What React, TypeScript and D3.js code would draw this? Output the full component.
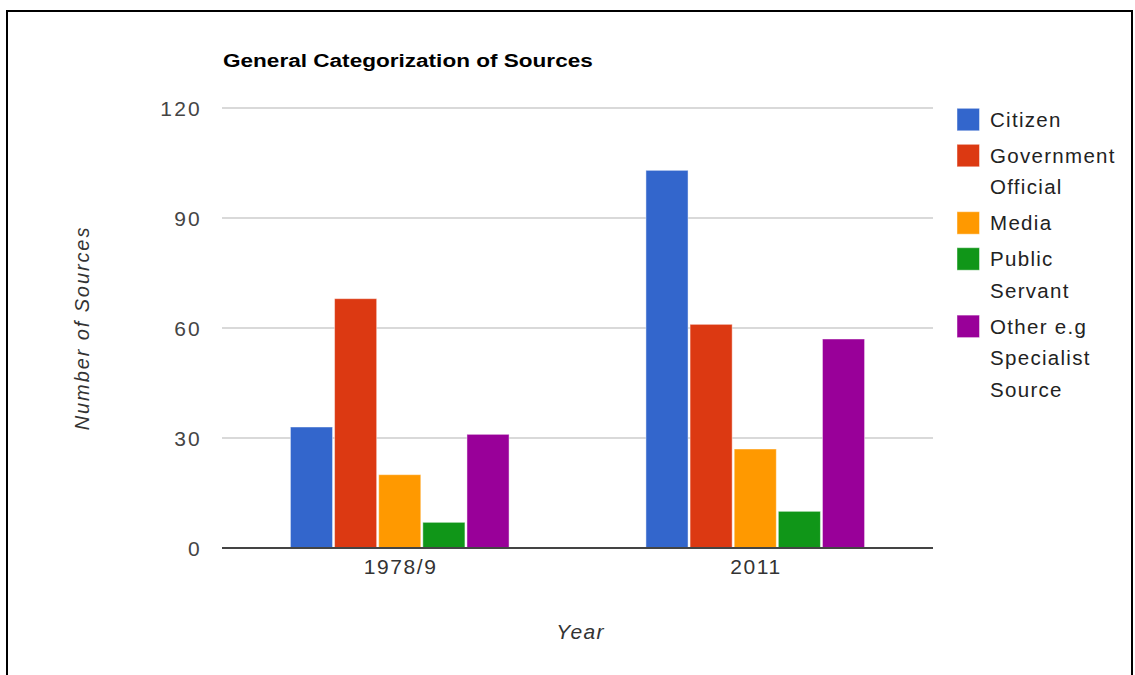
import React, { useEffect, useRef } from "react";
import * as d3 from "d3";

// Survey of source types, counted per sample period
const years = ["1978/9", "2011"];
const seriesNames = [
  "Citizen",
  "Government Official",
  "Media",
  "Public Servant",
  "Other e.g Specialist Source",
];
const seriesColors = ["#3366cc", "#dc3912", "#ff9900", "#109618", "#990099"];
const citizen = [33, 103];
const governmentOfficial = [68, 61];
const media = [20, 27];
const publicServant = [7, 10];
const otherSpecialist = [31, 57];
const yTicks = [0, 30, 60, 90, 120];
const chartTitle = "General Categorization of Sources";
const xTitle = "Year";
const yTitle = "Number of Sources";

const WIDTH = 1135;
const HEIGHT = 675;
const FONT = "'Liberation Sans', Arial, sans-serif";

export default function App() {
  const ref = useRef<SVGSVGElement | null>(null);

  useEffect(() => {
    const svg = d3.select(ref.current);
    svg.selectAll("*").remove();

    const series = [citizen, governmentOfficial, media, publicServant, otherSpecialist];

    const plot = { left: 222, right: 933, top: 108, bottom: 548 };

    // frame around the whole figure
    svg
      .append("rect")
      .attr("x", 7)
      .attr("y", 11)
      .attr("width", 1125)
      .attr("height", 720)
      .attr("fill", "none")
      .attr("stroke", "#000")
      .attr("stroke-width", 2);

    const y = d3.scaleLinear().domain([0, 120]).range([plot.bottom, plot.top]);
    const x0 = d3.scaleBand<string>().domain(years).range([plot.left, plot.right]).padding(0);
    const groupWidth = x0.bandwidth() * 0.615;
    const x1 = d3
      .scaleBand<number>()
      .domain(d3.range(series.length))
      .range([0, groupWidth])
      .paddingInner(0.046)
      .paddingOuter(0);

    // title, drawn with widened glyphs
    svg
      .append("text")
      .attr("transform", "translate(223,67) scale(1.22,1)")
      .attr("font-family", FONT)
      .attr("font-size", 18.5)
      .attr("font-weight", "bold")
      .attr("fill", "#000")
      .text(chartTitle);

    // gridlines
    svg
      .append("g")
      .selectAll("line")
      .data(yTicks.filter((t) => t !== 0))
      .join("line")
      .attr("x1", plot.left)
      .attr("x2", plot.right)
      .attr("y1", (d) => y(d))
      .attr("y2", (d) => y(d))
      .attr("stroke", "#cccccc")
      .attr("stroke-width", 1.5);

    // y tick labels
    svg
      .append("g")
      .selectAll("text")
      .data(yTicks)
      .join("text")
      .attr("x", 202)
      .attr("y", (d) => y(d) + 8)
      .attr("text-anchor", "end")
      .attr("font-family", FONT)
      .attr("font-size", 21)
      .attr("letter-spacing", 2.2)
      .attr("fill", "#444")
      .text((d) => String(d));

    // bars
    const groups = svg
      .append("g")
      .selectAll("g")
      .data(years)
      .join("g")
      .attr("transform", (d) => `translate(${x0(d)! + (x0.bandwidth() - groupWidth) / 2},0)`);

    groups
      .selectAll("rect")
      .data((_, yi) => series.map((s, si) => ({ si, v: s[yi] })))
      .join("rect")
      .attr("x", (d) => x1(d.si)!)
      .attr("width", x1.bandwidth())
      .attr("y", (d) => y(d.v))
      .attr("height", (d) => y(0) - y(d.v))
      .attr("fill", (d) => seriesColors[d.si])
      .attr("stroke", "#ffffff")
      .attr("stroke-opacity", 0.45)
      .attr("stroke-width", 1);

    // baseline
    svg
      .append("line")
      .attr("x1", plot.left)
      .attr("x2", plot.right)
      .attr("y1", y(0))
      .attr("y2", y(0))
      .attr("stroke", "#444")
      .attr("stroke-width", 2);

    // category labels
    svg
      .append("g")
      .selectAll("text")
      .data(years)
      .join("text")
      .attr("x", (d) => x0(d)! + x0.bandwidth() / 2 + 0.8)
      .attr("y", 574)
      .attr("text-anchor", "middle")
      .attr("font-family", FONT)
      .attr("font-size", 21)
      .attr("letter-spacing", 1.6)
      .attr("fill", "#333")
      .text((d) => d);

    // axis titles
    svg
      .append("text")
      .attr("x", (plot.left + plot.right) / 2 + 3)
      .attr("y", 639)
      .attr("text-anchor", "middle")
      .attr("font-family", FONT)
      .attr("font-size", 21)
      .attr("font-style", "italic")
      .attr("letter-spacing", 1.3)
      .attr("fill", "#333")
      .text(xTitle);

    svg
      .append("text")
      .attr("transform", `translate(89,${(plot.top + plot.bottom) / 2}) rotate(-90)`)
      .attr("text-anchor", "middle")
      .attr("font-family", FONT)
      .attr("font-size", 20)
      .attr("font-style", "italic")
      .attr("letter-spacing", 1.9)
      .attr("fill", "#333")
      .text(yTitle);

    // legend with word wrapping
    const legendX = 957;
    const textX = 990;
    const maxTextWidth = 138;
    const lineHeight = 31.4;
    const entryGap = 36;
    let top = 108.3;

    const measurer = svg
      .append("text")
      .attr("font-family", FONT)
      .attr("font-size", 20.5)
      .attr("letter-spacing", 1.3)
      .attr("visibility", "hidden");

    const wrap = (label: string) => {
      const words = label.split(" ");
      const lines: string[] = [];
      let current = "";
      for (const w of words) {
        const trial = current ? current + " " + w : w;
        measurer.text(trial);
        const len = (measurer.node() as SVGTextElement).getComputedTextLength();
        if (len > maxTextWidth && current) {
          lines.push(current);
          current = w;
        } else {
          current = trial;
        }
      }
      if (current) lines.push(current);
      return lines;
    };

    const legend = svg.append("g");
    seriesNames.forEach((name, i) => {
      const lines = wrap(name);
      legend
        .append("rect")
        .attr("x", legendX)
        .attr("y", top)
        .attr("width", 22.5)
        .attr("height", 22.5)
        .attr("fill", seriesColors[i])
        .attr("stroke", "#ffffff")
        .attr("stroke-opacity", 0.45)
        .attr("stroke-width", 1);
      const t = legend
        .append("text")
        .attr("font-family", FONT)
        .attr("font-size", 20.5)
        .attr("letter-spacing", 1.3)
        .attr("fill", "#222");
      lines.forEach((ln, li) => {
        t.append("tspan")
          .attr("x", textX)
          .attr("y", top + 18.6 + li * lineHeight)
          .text(ln);
      });
      top += entryGap + lineHeight * (lines.length - 1);
    });
    measurer.remove();
  }, []);

  return (
    <svg
      ref={ref}
      width={WIDTH}
      height={HEIGHT}
      style={{ position: "absolute", left: 0, top: 0, background: "#fff" }}
    />
  );
}
